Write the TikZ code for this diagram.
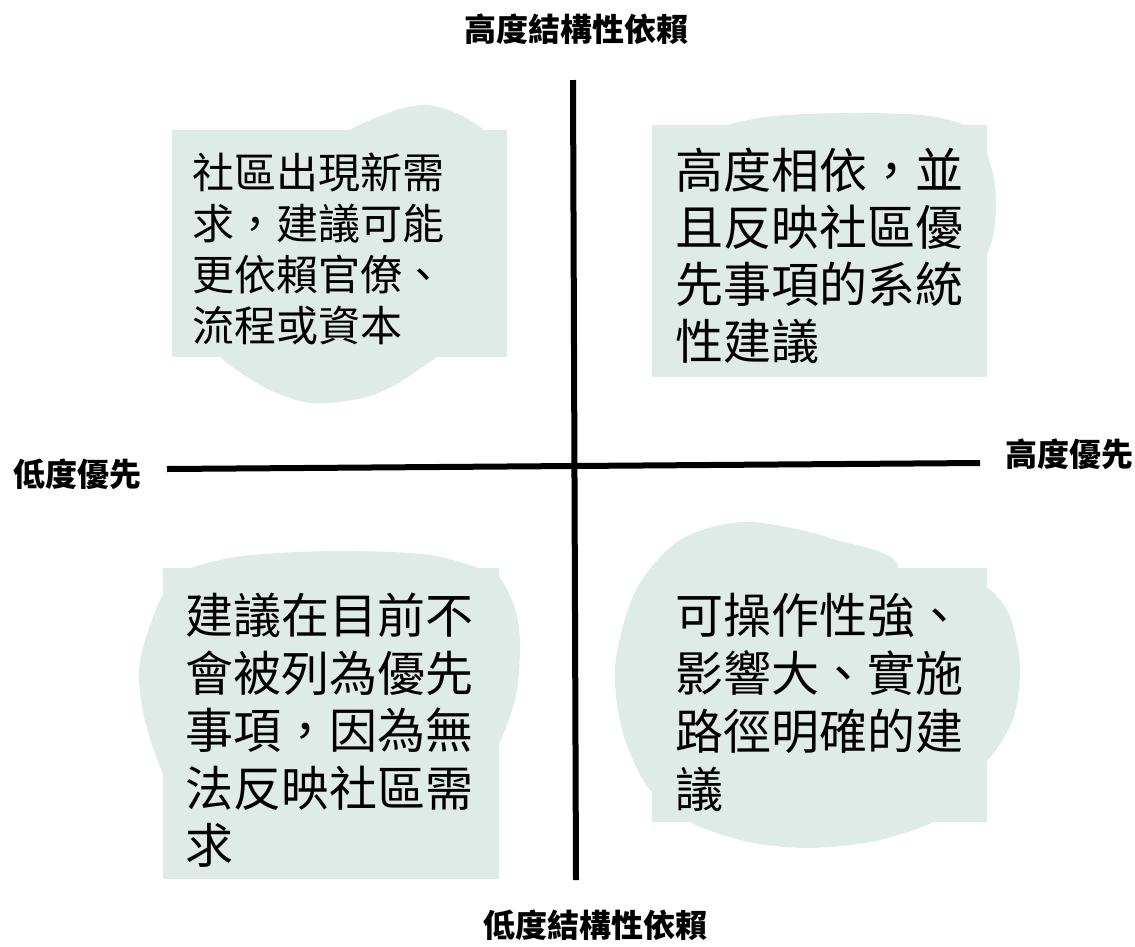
\documentclass[tikz,border=0pt]{standalone}
\usepackage{fontspec}
\setmainfont{Noto Sans CJK TC}

\definecolor{blobgreen}{RGB}{223,235,231}

\tikzset{
  blob/.style={fill=blobgreen, draw=none},
  quadtext/.style={anchor=north west, inner sep=0pt, align=left,
    font=\fontsize{48}{57.5}\selectfont},
  axislabel/.style={inner sep=0pt, font=\bfseries\fontsize{32}{36}\selectfont},
  axisline/.style={line width=6pt}
}

\begin{document}
\begin{tikzpicture}[x=1pt,y=-1pt]
  \useasboundingbox (0,0) rectangle (1135,946);

  % upper left
  \fill[blob] (172,130) rectangle (507,357);
  \fill[blob] plot[smooth cycle] coordinates {(338,142) (385,114) (428,105) (470,120) (482,142)};
  \fill[blob] plot[smooth cycle] coordinates {(225,345) (255,382) (310,403) (370,396) (415,372) (432,345)};
  % upper right
  \fill[blob] (652,125) rectangle (987,377);
  \fill[blob] plot[smooth cycle] coordinates {(718,132) (765,117) (850,113) (930,116) (966,130) (850,140)};
  \fill[blob] plot[smooth cycle] coordinates {(980,145) (992,170) (996,205) (992,240) (980,258)};
  % lower left
  \fill[blob] (163,568) rectangle (499,879);
  \fill[blob] plot[smooth cycle] coordinates {(185,575) (235,557) (330,551) (430,555) (482,575) (330,585)};
  \fill[blob] plot[smooth cycle] coordinates {(175,580) (152,620) (139,670) (146,725) (170,780) (185,680)};
  \fill[blob] plot[smooth cycle] coordinates {(492,575) (512,600) (520,640) (515,700) (492,750) (480,660)};
  % lower right
  \fill[blob] (652,568) rectangle (987,822);
  \fill[blob] plot[smooth cycle] coordinates {(895,575) (830,538) (745,522) (680,540) (636,590) (615,667) (625,740) (660,795) (700,700)};
  \fill[blob] plot[smooth cycle] coordinates {(980,588) (1008,612) (1020,667) (1012,722) (980,762) (970,670)};
  \fill[blob] plot[smooth cycle] coordinates {(685,815) (740,840) (807,848) (880,840) (938,815) (807,800)};

  \node[quadtext, font=\fontsize{42}{51}\selectfont] (upleft) at (192,153)
    {社區出現新需\\求，建議可能\\更依賴官僚、\\流程或資本};
  \node[quadtext, font=\fontsize{48}{57}\selectfont] (upright) at (675,148)
    {高度相依，並\\且反映社區優\\先事項的系統\\性建議};
  \node[quadtext] (lowleft) at (185,593)
    {建議在目前不\\會被列為優先\\事項，因為無\\法反映社區需\\求};
  \node[quadtext, font=\fontsize{48}{58}\selectfont] (lowright) at (675,593)
    {可操作性強、\\影響大、實施\\路徑明確的建\\議};

  % axes
  \coordinate (ytop) at (573,80);
  \coordinate (ybot) at (576,880);
  \coordinate (xleft) at (167,469);
  \coordinate (xright) at (980,463);
  \draw[axisline] (ytop) -- (ybot);
  \draw[axisline] (xleft) -- (xright);

  \node[axislabel] (toplabel) at (576,29) {高度結構性依賴};
  \node[axislabel] (botlabel) at (595,925) {低度結構性依賴};
  \node[axislabel] (leftlabel) at (77,474) {低度優先};
  \node[axislabel] (rightlabel) at (1069,454) {高度優先};
\end{tikzpicture}
\end{document}
